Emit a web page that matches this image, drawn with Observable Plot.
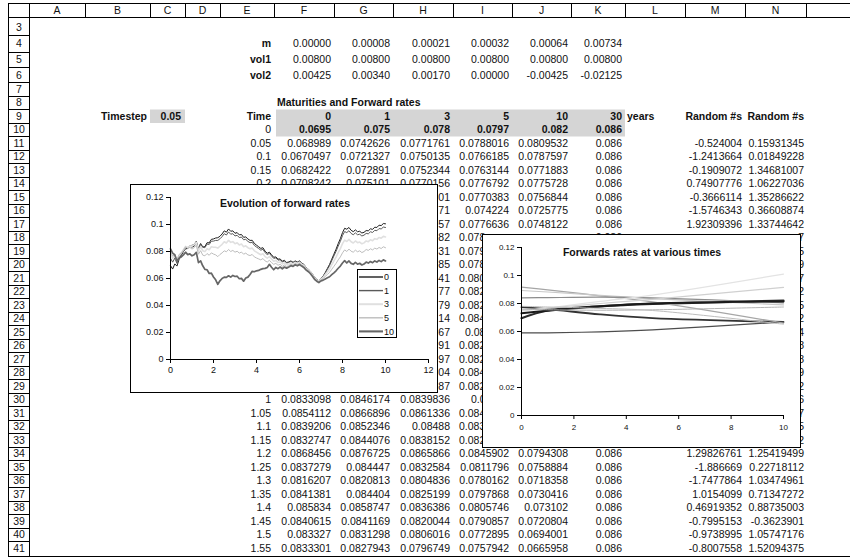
<!DOCTYPE html>
<html><head><meta charset="utf-8">
<script src="https://cdn.jsdelivr.net/npm/d3@7"></script>
<script src="https://cdn.jsdelivr.net/npm/@observablehq/plot@0.6"></script>
<style>
html,body{margin:0;padding:0;background:#fff;}
#page{position:relative;width:850px;height:557px;overflow:hidden;font-family:"Liberation Sans",Arial,sans-serif;color:#111;}
#sheet{position:absolute;left:0;top:0;}
.chart{position:absolute;background:#fff;outline:1.5px solid #000;}
.title{position:absolute;font-weight:bold;font-size:10.5px;white-space:nowrap;transform:translate(-50%,-50%);color:#111;}
.legend{position:absolute;background:#fff;border:1px solid #000;font-size:9px;box-sizing:border-box;}
</style></head>
<body><div id="page"><div id="sheet"></div></div>
<script>
// ---------------- spreadsheet content ----------------
const colLetters = ["A","B","C","D","E","F","G","H","I","J","K","L","M","N"];
const colEdges = [29,85,150,185,220,274,334,393,453,512,571,625,685,745,806];
const paramNames = ["m","vol1","vol2"];
const mVals = ["0.00000","0.00008","0.00021","0.00032","0.00064","0.00734"];
const vol1Vals = ["0.00800","0.00800","0.00800","0.00800","0.00800","0.00800"];
const vol2Vals = ["0.00425","0.00340","0.00170","0.00000","-0.00425","-0.02125"];
const maturityLabels = ["0","1","3","5","10","30"];
const initRates = ["0.0695","0.075","0.078","0.0797","0.082","0.086"];
// [row, E, F, G, H, I, J, K, M, N]
const bodyRows = [
 [11,"0.05","0.068989","0.0742626","0.0771761","0.0788016","0.0809532","0.086","-0.524004","0.15931345"],
 [12,"0.1","0.0670497","0.0721327","0.0750135","0.0766185","0.0787597","0.086","-1.2413664","0.01849228"],
 [13,"0.15","0.0682422","0.072891","0.0752344","0.0763144","0.0771883","0.086","-0.1909072","1.34681007"],
 [14,"0.2","0.0708242","0.075101","0.0770156","0.0776792","0.0775728","0.086","0.74907776","1.06227036"],
 [15,null,null,null,"01","0.0770383","0.0756844","0.086","-0.3666114","1.35286622"],
 [16,null,null,null,"71","0.074224","0.0725775","0.086","-1.5746343","0.36608874"],
 [17,null,null,null,"57","0.0776636","0.0748122","0.086","1.92309396","1.33744642"],
 [18,null,null,null,"82",null,null,"0.086",null,"7"],
 [19,null,null,null,"31",null,null,null,null,"5"],
 [20,null,null,null,"85",null,null,null,null,"9"],
 [21,null,null,null,"41",null,null,null,null,"7"],
 [22,null,null,null,"77",null,null,null,null,"2"],
 [23,null,null,null,"79",null,null,null,null,"5"],
 [24,null,null,null,"14",null,null,null,null,"2"],
 [25,null,null,null,"67",null,null,null,null,"4"],
 [26,null,null,null,"91",null,null,null,null,"8"],
 [27,null,null,null,"97",null,null,null,null,"8"],
 [28,null,null,null,"04",null,null,null,null,"9"],
 [29,null,null,null,"87",null,null,null,null,"2"],
 [30,"1","0.0833098","0.0846174","0.0839836",null,null,null,null,"6"],
 [31,"1.05","0.0854112","0.0866896","0.0861336",null,null,null,null,"7"],
 [32,"1.1","0.0839206","0.0852346","0.08488",null,null,null,null,"5"],
 [33,"1.15","0.0832747","0.0844076","0.0838152",null,null,null,null,"2"],
 [34,"1.2","0.0868456","0.0876725","0.0865866","0.0845902","0.0794308","0.086","1.29826761","1.25419499"],
 [35,"1.25","0.0837279","0.084447","0.0832584","0.0811796","0.0758884","0.086","-1.886669","0.22718112"],
 [36,"1.3","0.0816207","0.0820813","0.0804836","0.0780162","0.0718358","0.086","-1.7477864","1.03474961"],
 [37,"1.35","0.0841381","0.084404","0.0825199","0.0797868","0.0730416","0.086","1.0154099","0.71347272"],
 [38,"1.4","0.085834","0.0858747","0.0836386","0.0805746","0.073102","0.086","0.46919352","0.88735003"],
 [39,"1.45","0.0840615","0.0841169","0.0820044","0.0790857","0.0720804","0.086","-0.7995153","-0.3623901"],
 [40,"1.5","0.083327","0.0831298","0.0806016","0.0772895","0.0694001","0.086","-0.9738995","1.05747176"],
 [41,"1.55","0.0833301","0.0827943","0.0796749","0.0757942","0.0665958","0.086","-0.8007558","1.52094375"]
];
// visible left parts of column I next to the second chart: [row, text, start x]
const iFragments = [
 [18,"0.078",459],[19,"0.079",459],[20,"0.078",459],[21,"0.080",459],[22,"0.082",459],[23,"0.082",459],
 [24,"0.084",459],[25,"0.08",465],[26,"0.082",459],[27,"0.082",459],[28,"0.084",459],[29,"0.082",459],
 [30,"0.0",471],[31,"0.084",459],[32,"0.083",459],[33,"0.082",459]
];

// ---------------- chart 1 data: forward rates over time (step 0.1) ----------------
const timeStep = 0.1;
const fwd0 = [
0.0695,0.0670,0.0708,0.0692,0.0742,0.0770,0.0800,0.0820,0.0822,0.0838,
0.0833,0.0839,0.0868,0.0816,0.0858,0.0833,0.0836,0.0865,0.0864,0.0890,
0.0893,0.0900,0.0902,0.0913,0.0930,0.0953,0.0943,0.0967,0.0950,0.0953,
0.0935,0.0940,0.0923,0.0926,0.0905,0.0908,0.0893,0.0882,0.0883,0.0860,
0.0847,0.0835,0.0823,0.0828,0.0802,0.0787,0.0795,0.0776,0.0757,0.0760,
0.0743,0.0745,0.0728,0.0735,0.0718,0.0723,0.0730,0.0720,0.0730,0.0722,
0.0730,0.0715,0.0705,0.0684,0.0670,0.0655,0.0633,0.0610,0.0593,0.0583,
0.0600,0.0618,0.0645,0.0675,0.0705,0.0743,0.0780,0.0817,0.0858,0.0895,
0.0940,0.0972,0.0965,0.0978,0.0957,0.0947,0.0960,0.0946,0.0950,0.0937,
0.0942,0.0955,0.0953,0.0968,0.0964,0.0980,0.0978,0.0995,0.0992,0.1007,
0.1005];
const fwd1 = [
0.0750,0.0721,0.0751,0.0712,0.0757,0.0782,0.0810,0.0830,0.0830,0.0842,
0.0846,0.0852,0.0877,0.0821,0.0859,0.0831,0.0828,0.0855,0.0852,0.0876,
0.0877,0.0882,0.0882,0.0894,0.0910,0.0932,0.0922,0.0945,0.0928,0.0932,
0.0915,0.0920,0.0903,0.0907,0.0887,0.0890,0.0875,0.0865,0.0868,0.0845,
0.0833,0.0822,0.0810,0.0816,0.0791,0.0777,0.0786,0.0767,0.0749,0.0753,
0.0736,0.0739,0.0722,0.0730,0.0714,0.0719,0.0726,0.0717,0.0727,0.0719,
0.0727,0.0713,0.0703,0.0682,0.0669,0.0654,0.0632,0.0609,0.0592,0.0582,
0.0599,0.0615,0.0641,0.0668,0.0696,0.0732,0.0767,0.0801,0.0840,0.0875,
0.0918,0.0948,0.0940,0.0954,0.0934,0.0924,0.0938,0.0924,0.0928,0.0915,
0.0921,0.0934,0.0931,0.0946,0.0941,0.0957,0.0954,0.0970,0.0967,0.0981,
0.0978];
const fwd3 = [
0.0780,0.0750,0.0770,0.0730,0.0772,0.0790,0.0813,0.0838,0.0830,0.0840,
0.0840,0.0849,0.0866,0.0805,0.0836,0.0806,0.0799,0.0821,0.0813,0.0835,
0.0831,0.0831,0.0825,0.0839,0.0853,0.0872,0.0863,0.0883,0.0868,0.0873,
0.0858,0.0864,0.0849,0.0855,0.0836,0.0842,0.0828,0.0820,0.0825,0.0805,
0.0795,0.0785,0.0776,0.0784,0.0762,0.0751,0.0762,0.0744,0.0728,0.0734,
0.0718,0.0723,0.0707,0.0716,0.0702,0.0708,0.0716,0.0708,0.0719,0.0711,
0.0720,0.0707,0.0697,0.0677,0.0665,0.0650,0.0629,0.0606,0.0590,0.0580,
0.0595,0.0608,0.0629,0.0650,0.0672,0.0702,0.0730,0.0759,0.0792,0.0821,
0.0858,0.0884,0.0874,0.0890,0.0872,0.0863,0.0878,0.0865,0.0870,0.0857,
0.0864,0.0878,0.0873,0.0887,0.0880,0.0895,0.0890,0.0904,0.0899,0.0912,
0.0908];
const fwd5 = [
0.0797,0.0766,0.0777,0.0742,0.0777,0.0790,0.0810,0.0835,0.0822,0.0830,
0.0818,0.0828,0.0846,0.0780,0.0806,0.0773,0.0768,0.0785,0.0772,0.0790,
0.0781,0.0775,0.0762,0.0778,0.0790,0.0805,0.0798,0.0815,0.0800,0.0808,
0.0795,0.0802,0.0788,0.0796,0.0780,0.0788,0.0775,0.0770,0.0778,0.0760,
0.0752,0.0745,0.0738,0.0748,0.0730,0.0722,0.0735,0.0718,0.0705,0.0712,
0.0698,0.0705,0.0690,0.0700,0.0688,0.0695,0.0705,0.0698,0.0710,0.0702,
0.0712,0.0700,0.0690,0.0672,0.0660,0.0645,0.0625,0.0602,0.0588,0.0578,
0.0590,0.0600,0.0615,0.0630,0.0645,0.0668,0.0690,0.0712,0.0738,0.0760,
0.0790,0.0812,0.0800,0.0818,0.0802,0.0795,0.0810,0.0798,0.0805,0.0792,
0.0800,0.0815,0.0808,0.0820,0.0812,0.0825,0.0818,0.0830,0.0822,0.0835,
0.0828];
const fwd10 = [
0.0820,0.0788,0.0776,0.0726,0.0752,0.0760,0.0775,0.0795,0.0777,0.0782,
0.0768,0.0776,0.0794,0.0718,0.0731,0.0694,0.0668,0.0665,0.0637,0.0640,
0.0611,0.0590,0.0557,0.0583,0.0600,0.0610,0.0608,0.0620,0.0610,0.0623,
0.0615,0.0617,0.0598,0.0601,0.0580,0.0603,0.0610,0.0630,0.0653,0.0650,
0.0657,0.0660,0.0668,0.0673,0.0675,0.0682,0.0705,0.0683,0.0665,0.0682,
0.0673,0.0685,0.0672,0.0685,0.0676,0.0685,0.0695,0.0690,0.0702,0.0694,
0.0704,0.0692,0.0682,0.0664,0.0652,0.0637,0.0617,0.0594,0.0580,0.0570,
0.0582,0.0588,0.0597,0.0605,0.0613,0.0628,0.0642,0.0657,0.0676,0.0692,
0.0715,0.0732,0.0715,0.0730,0.0712,0.0705,0.0720,0.0706,0.0713,0.0700,
0.0707,0.0722,0.0714,0.0726,0.0717,0.0730,0.0722,0.0734,0.0725,0.0738,
0.0730];
const seriesNames = ["0","1","3","5","10"];
const seriesColors = ["#1e1e1e","#5a5a5a","#e0e0e0","#bdbdbd","#666666"];
const seriesWidths = [1,1,1.6,1,1.7];
const yTicks = [0,0.02,0.04,0.06,0.08,0.1,0.12];
const xTicks1 = [0,2,4,6,8,10,12];
const xTicks2 = [0,2,4,6,8,10];

// ---------------- chart 2 data: forward curves at various times ----------------
const maturities = [0,1,3,5,10];
const curves = [
 [0.0695,0.0750,0.0780,0.0797,0.0820],
 [0.0774,0.0760,0.0722,0.0695,0.0668],
 [0.0590,0.0590,0.0598,0.0612,0.0668],
 [0.0917,0.0898,0.0855,0.0812,0.0660],
 [0.0893,0.0882,0.0858,0.0835,0.0790],
 [0.0840,0.0842,0.0845,0.0840,0.0805],
 [0.0745,0.0768,0.0815,0.0860,0.1010],
 [0.0752,0.0768,0.0800,0.0830,0.0915],
 [0.0730,0.0748,0.0780,0.0800,0.0815],
 [0.0760,0.0755,0.0752,0.0755,0.0775],
 [0.0780,0.0775,0.0765,0.0750,0.0652]
];
const curveColors = ["#2a2a2a","#333333","#4d4d4d","#a6a6a6","#c8c8c8","#8c8c8c","#e3e3e3","#d0d0d0","#1a1a1a","#b3b3b3","#bdbdbd"];
const curveWidths = [2.2,1.8,1.2,1.2,1.2,1.2,1.2,1.2,2,1,1];

// ---------------- draw the sheet ----------------
const rowCenterTop = {3:27,4:43.5,5:59.5,6:75,7:89,8:102.5,9:116,10:129.5};
function rowY(r){ return r<=10 ? rowCenterTop[r] : 143 + (r-11)*13.5; }
const page = document.getElementById("page");
const svg = d3.select("#sheet").append("svg").attr("width",850).attr("height",557)
  .style("font-family",'"Liberation Sans", Arial, sans-serif').style("font-size","10.5px").attr("fill","#111");
function line(x1,y1,x2,y2){ svg.append("line").attr("x1",x1).attr("y1",y1).attr("x2",x2).attr("y2",y2).attr("stroke","#000").attr("stroke-width",1); }
function put(text,x,r,anchor,bold){
  svg.append("text").attr("x",x).attr("y",rowY(r)+3.8).attr("text-anchor",anchor||"end")
    .attr("font-weight",bold?"bold":null).text(text);
}
// gray cells
svg.append("rect").attr("x",150).attr("y",109.5).attr("width",35).attr("height",13.5).attr("fill","#d5d5d5");
svg.append("rect").attr("x",276).attr("y",109.5).attr("width",349).attr("height",27).attr("fill","#d5d5d5");
// header row
line(8,3.5,850,3.5); line(8,17.5,850,17.5);
line(8.5,3.5,8.5,556);
colEdges.forEach(x=>line(x+0.5,3.5,x+0.5,17.5));
line(29.5,17.5,29.5,556);
colLetters.forEach((c,i)=>{
  svg.append("text").attr("x",(colEdges[i]+colEdges[i+1])/2).attr("y",14).attr("text-anchor","middle").text(c);
});
// row number column
for(let r=3;r<=41;r++){
  svg.append("text").attr("x",19).attr("y",rowY(r)+3.8).attr("text-anchor","middle").text(r);
  const bottom = r<41 ? (rowY(r)+rowY(r+1))/2 : 556;
  line(8,Math.round(bottom)+0.5,29.5,Math.round(bottom)+0.5);
}
line(8,556.5,850,556.5);
const cx = {E:271,F:331,G:390,H:450,I:509,J:568,K:622,M:742,N:804};
const valCols = ["F","G","H","I","J","K"];
[mVals,vol1Vals,vol2Vals].forEach((vals,k)=>{
  put(paramNames[k],cx.E,4+k,"end",true);
  vals.forEach((v,i)=>put(v,cx[valCols[i]],4+k));
});
put("Maturities and Forward rates",277,8,"start",true);
put("Timestep",147,9,"end",true); put("0.05",181,9,"end",true);
put("Time",cx.E,9,"end",true);
maturityLabels.forEach((v,i)=>put(v,cx[valCols[i]],9,"end",true));
put("years",627,9,"start",true);
put("Random #s",cx.M,9,"end",true); put("Random #s",cx.N,9,"end",true);
put("0",cx.E,10);
initRates.forEach((v,i)=>put(v,cx[valCols[i]],10,"end",true));
const bodyCols = ["E","F","G","H","I","J","K","M","N"];
bodyRows.forEach(row=>{
  bodyCols.forEach((c,i)=>{ if(row[i+1]!=null) put(row[i+1],cx[c],row[0]); });
});
iFragments.forEach(f=>put(f[1],f[2],f[0],"start"));

// ---------------- chart 1 ----------------
const seriesData = [fwd0,fwd1,fwd3,fwd5,fwd10];
const evo = seriesData.map(vals=>vals.map((v,i)=>({t:i*timeStep,v})));
const fmtY = d => d===0 ? "0" : d3.format(".2~f")(d);
const chart1 = Plot.plot({
  width:306, height:207, marginLeft:39, marginRight:9, marginTop:12, marginBottom:33,
  x:{domain:[0,12], label:null}, y:{domain:[0,0.12], label:null},
  style:{background:"white", fontFamily:'"Liberation Sans", Arial, sans-serif', fontSize:"9px", color:"#111", overflow:"visible"},
  marks:[
    ...evo.map((d,i)=>Plot.line(d,{x:"t",y:"v",stroke:seriesColors[i],strokeWidth:seriesWidths[i]})),
    Plot.ruleX([0],{stroke:"#000"}),
    Plot.ruleY([0],{stroke:"#000"}),
    Plot.axisY({ticks:yTicks,tickSize:4,tickPadding:3,tickFormat:fmtY,stroke:"#000",label:null}),
    Plot.axisX({ticks:xTicks1,tickSize:4,tickPadding:3,tickFormat:d=>String(d),stroke:"#000",label:null})
  ]
});
chart1.classList.add("chart");
Object.assign(chart1.style,{left:"131px",top:"185px"});
page.appendChild(chart1);
const t1 = document.createElement("div"); t1.className="title"; t1.textContent="Evolution of forward rates";
Object.assign(t1.style,{left:"285px",top:"203px"}); page.appendChild(t1);
// legend
const leg = document.createElement("div"); leg.className="legend";
Object.assign(leg.style,{left:"357px",top:"269px",width:"40px",height:"69px"});
let legHtml = '<svg width="38" height="67" style="position:absolute;left:0;top:0;font-family:Liberation Sans,Arial,sans-serif;font-size:9px">';
seriesNames.forEach((n,i)=>{
  const y = 7 + i*13.6;
  legHtml += `<line x1="1" x2="25" y1="${y}" y2="${y}" stroke="${seriesColors[i]}" stroke-width="${seriesWidths[i]+0.4}"/>`;
  legHtml += `<text x="26" y="${y+3.2}" fill="#111">${n}</text>`;
});
legHtml += '</svg>';
leg.innerHTML = legHtml; page.appendChild(leg);

// ---------------- chart 2 ----------------
const curveData = curves.map(vals=>vals.map((v,i)=>({m:maturities[i],v})));
const chart2 = Plot.plot({
  width:317, height:212, marginLeft:38, marginRight:17, marginTop:12, marginBottom:32,
  x:{domain:[0,10], label:null}, y:{domain:[0,0.12], label:null},
  style:{background:"white", fontFamily:'"Liberation Sans", Arial, sans-serif', fontSize:"8px", color:"#111", overflow:"visible"},
  marks:[
    ...curveData.map((d,i)=>Plot.line(d,{x:"m",y:"v",stroke:curveColors[i],strokeWidth:curveWidths[i],curve:"catmull-rom"})),
    Plot.ruleX([0],{stroke:"#000"}),
    Plot.ruleY([0],{stroke:"#000"}),
    Plot.axisY({ticks:yTicks,tickSize:4,tickPadding:3,tickFormat:fmtY,stroke:"#000",label:null}),
    Plot.axisX({ticks:xTicks2,tickSize:4,tickPadding:5,tickFormat:d=>String(d),stroke:"#000",label:null})
  ]
});
chart2.classList.add("chart");
Object.assign(chart2.style,{left:"483px",top:"235px"});
page.appendChild(chart2);
const t2 = document.createElement("div"); t2.className="title"; t2.textContent="Forwards rates at various times";
Object.assign(t2.style,{left:"642px",top:"252px"}); page.appendChild(t2);
</script></body></html>
